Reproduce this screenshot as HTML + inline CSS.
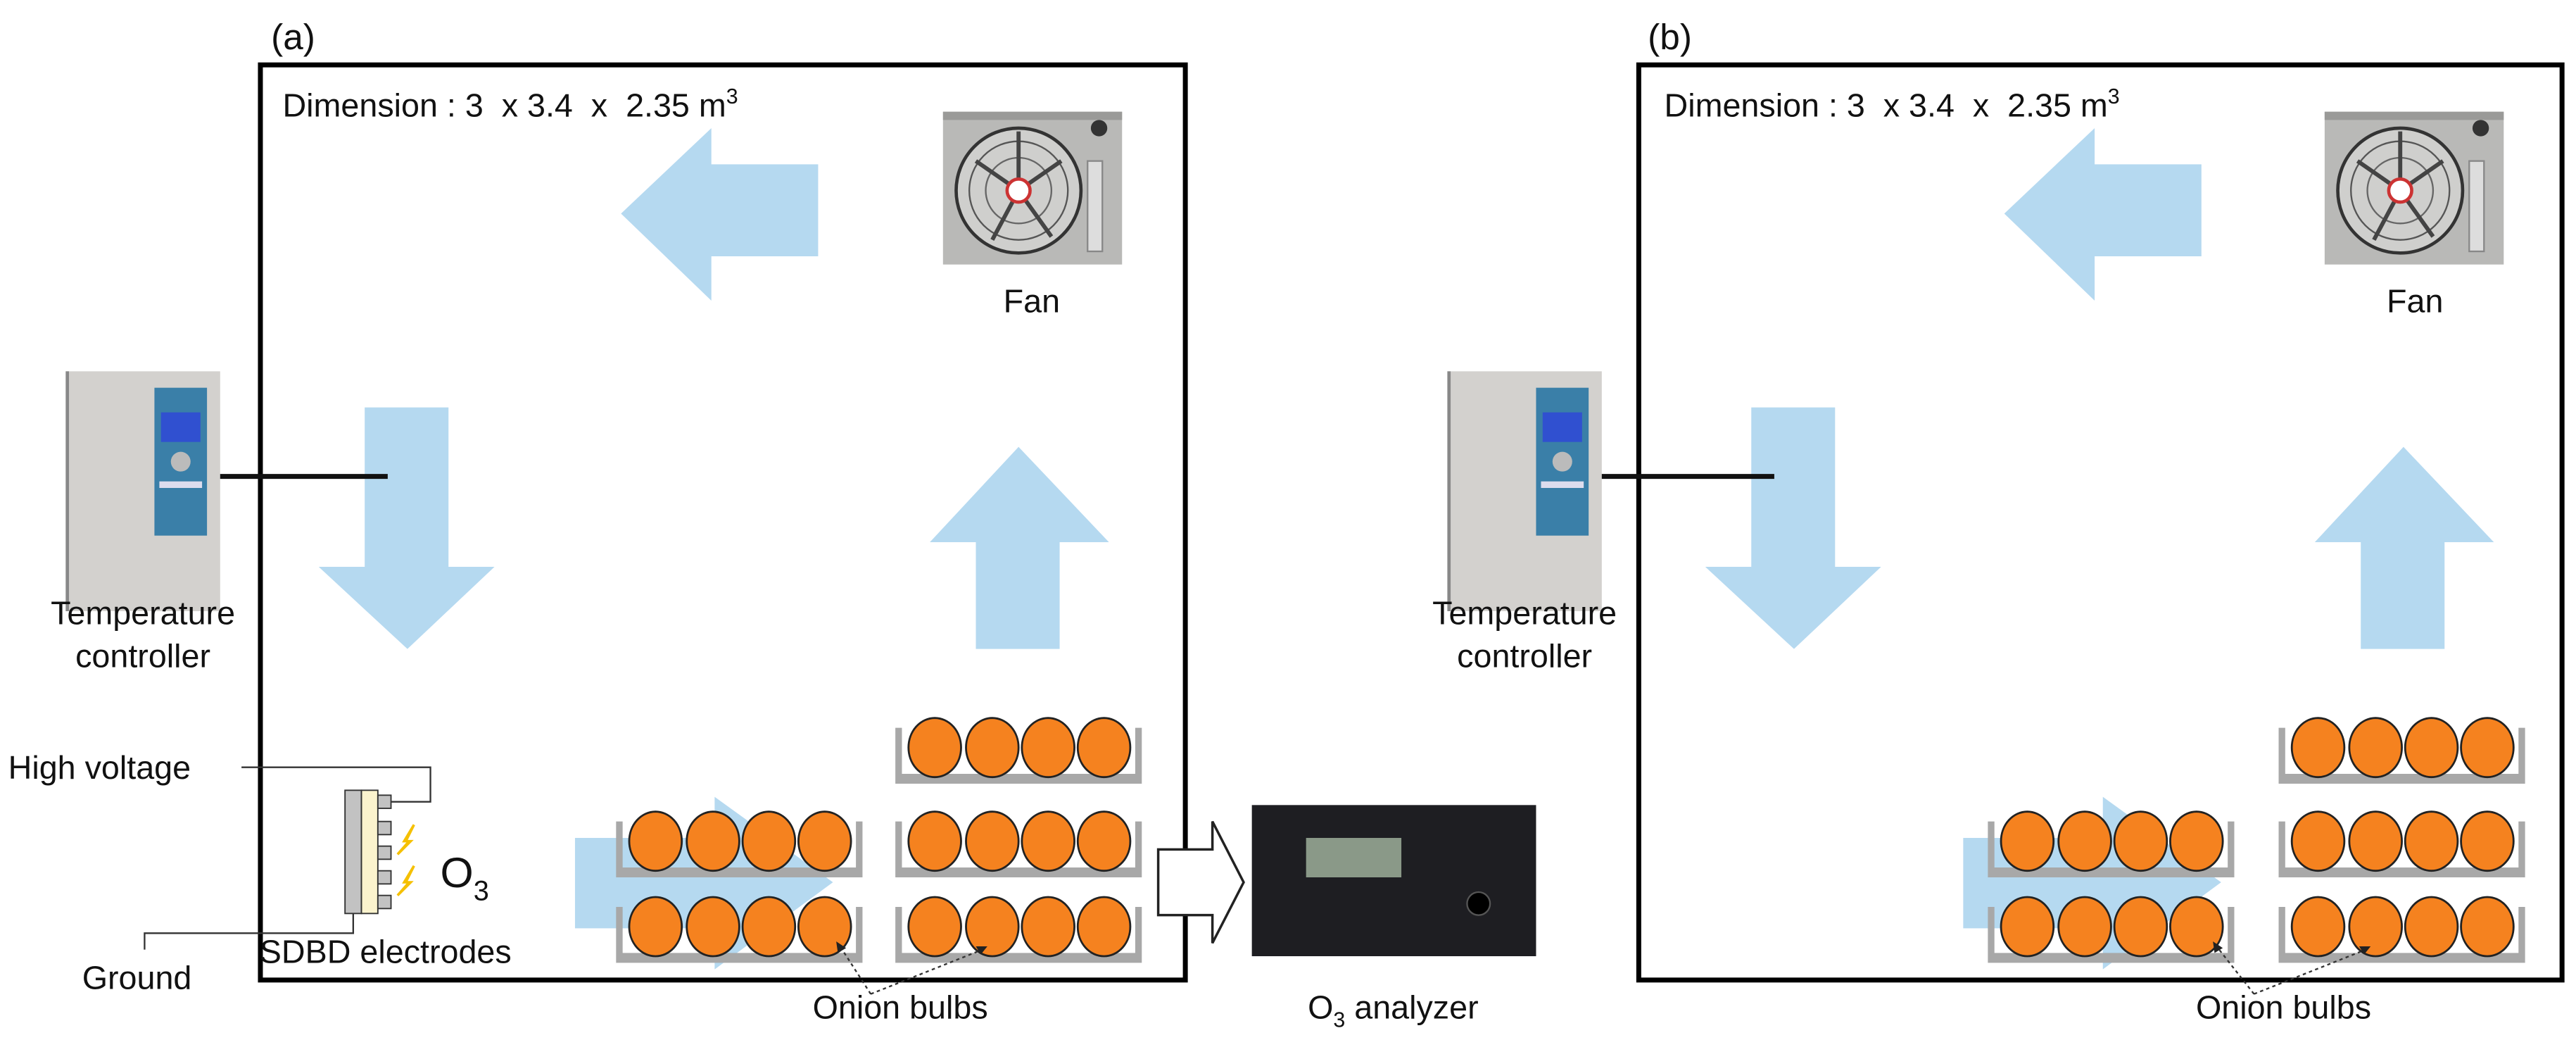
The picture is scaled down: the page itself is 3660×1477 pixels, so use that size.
<!DOCTYPE html>
<html><head><meta charset="utf-8"><style>
html,body{margin:0;padding:0;background:#fff;}
svg{display:block;}
text{font-family:"Liberation Sans",Arial,sans-serif;fill:#111;}
</style></head><body>
<svg width="3660" height="1477" viewBox="0 0 1568 633" preserveAspectRatio="none" xmlns="http://www.w3.org/2000/svg">
<defs>
  <g id="tray">
    <path d="M0 0 V34 H150 V0 H146 V28 H4 V0 Z" fill="#a8a8a8"/>
    <ellipse cx="24" cy="12" rx="16" ry="18" fill="#f5821f" stroke="#222" stroke-width="1.2"/>
    <ellipse cx="59" cy="12" rx="16" ry="18" fill="#f5821f" stroke="#222" stroke-width="1.2"/>
    <ellipse cx="93" cy="12" rx="16" ry="18" fill="#f5821f" stroke="#222" stroke-width="1.2"/>
    <ellipse cx="127" cy="12" rx="16" ry="18" fill="#f5821f" stroke="#222" stroke-width="1.2"/>
  </g>
  <g id="fan">
    <rect x="0" y="0" width="109" height="93" fill="#b9b9b7"/>
    <rect x="0" y="0" width="109" height="5" fill="#9a9a98"/>
    <circle cx="46" cy="48" r="38" fill="#cfcfcd" stroke="#333" stroke-width="2"/>
    <circle cx="46" cy="48" r="30" fill="none" stroke="#555" stroke-width="1"/>
    <circle cx="46" cy="48" r="20" fill="none" stroke="#666" stroke-width="1"/>
    <path d="M46 48 L20 30 M46 48 L72 30 M46 48 L30 78 M46 48 L66 76 M46 48 L46 12" stroke="#444" stroke-width="2.5"/>
    <circle cx="46" cy="48" r="7" fill="#fff" stroke="#c33" stroke-width="2"/>
    <rect x="88" y="30" width="9" height="55" fill="#ddd" stroke="#888"/>
    <circle cx="95" cy="10" r="5" fill="#333"/>
  </g>
  <g id="tc">
    <rect x="0" y="0" width="94" height="146" fill="#d3d1ce"/>
    <rect x="0" y="0" width="2" height="146" fill="#888"/>
    <rect x="54" y="10" width="32" height="90" fill="#3a7fa8"/>
    <rect x="58" y="25" width="24" height="18" fill="#3050d0"/>
    <circle cx="70" cy="55" r="6" fill="#bbb"/>
    <rect x="57" y="67" width="26" height="4" fill="#dde"/>
  </g>
  <g id="downarrow">
    <path d="M28 0 H79 V97 H107 L54 147 L0 97 H28 Z" fill="#b5d9f0"/>
  </g>
</defs>

<!-- ===== Panel (a) ===== -->
<text x="165" y="30" font-size="22">(a)</text>
<rect x="158.5" y="39.5" width="563" height="557" fill="none" stroke="#000" stroke-width="3"/>
<text x="172" y="71" font-size="20" xml:space="preserve">Dimension : 3  x 3.4  x  2.35 m<tspan font-size="13" dy="-8">3</tspan></text>

<path d="M378 130 L433 78 V100 H498 V156 H433 V183 Z" fill="#b5d9f0"/>
<use href="#fan" x="574" y="68"/>
<text x="628" y="190" font-size="20" text-anchor="middle">Fan</text>

<use href="#tc" x="40" y="226"/>
<use href="#downarrow" x="194" y="248"/>
<line x1="134" y1="290" x2="236" y2="290" stroke="#111" stroke-width="3"/>
<text x="87" y="380" font-size="20" text-anchor="middle">Temperature</text>
<text x="87" y="406" font-size="20" text-anchor="middle">controller</text>

<path d="M594 395 V330 H566 L620 272 L675 330 H645 V395 Z" fill="#b5d9f0"/>

<path d="M350 510 H435 V485 L507 537 L435 590 V565 H350 Z" fill="#b5d9f0"/>
<use href="#tray" x="545" y="443"/>
<use href="#tray" x="375" y="500"/>
<use href="#tray" x="545" y="500"/>
<use href="#tray" x="375" y="552"/>
<use href="#tray" x="545" y="552"/>

<path d="M705 517 H738 V500 L757 537 L738 574 V557 H705 Z" fill="#fff" stroke="#222" stroke-width="1.5"/>
<rect x="762" y="490" width="173" height="92" fill="#1e1e22"/>
<rect x="795" y="510" width="58" height="24" fill="#8a9988"/>
<circle cx="900" cy="550" r="7" fill="#000" stroke="#555"/>
<text x="848" y="620" font-size="20" text-anchor="middle">O<tspan font-size="13" dy="5">3</tspan><tspan dy="-5"> analyzer</tspan></text>

<path d="M530 605 L512 577 M530 605 L598 578" stroke="#333" stroke-width="1" stroke-dasharray="2,2" fill="none"/>
<path d="M509 573 l1 7 l5 -3 Z M601 576 l-7 0 l3 5 Z" fill="#222"/>
<text x="548" y="620" font-size="20" text-anchor="middle">Onion bulbs</text>

<!-- electrodes -->
<text x="5" y="474" font-size="20">High voltage</text>
<path d="M147 467 H262 V488 H230" stroke="#333" stroke-width="1" fill="none"/>
<rect x="210" y="481" width="10" height="75" fill="#c2c2c2" stroke="#333" stroke-width="0.8"/>
<rect x="220" y="481" width="10" height="75" fill="#fbf3cd" stroke="#333" stroke-width="0.8"/>
<rect x="230" y="484" width="8" height="8" fill="#c2c2c2" stroke="#333" stroke-width="0.8"/>
<rect x="230" y="500" width="8" height="8" fill="#c2c2c2" stroke="#333" stroke-width="0.8"/>
<rect x="230" y="515" width="8" height="8" fill="#c2c2c2" stroke="#333" stroke-width="0.8"/>
<rect x="230" y="530" width="8" height="8" fill="#c2c2c2" stroke="#333" stroke-width="0.8"/>
<rect x="230" y="545" width="8" height="8" fill="#c2c2c2" stroke="#333" stroke-width="0.8"/>
<path d="M252 502 L246 512 L249 512 L242 520 L250 512 L247 512 Z" fill="#f5c000" stroke="#f5c000" stroke-width="1.5"/>
<path d="M252 527 L246 537 L249 537 L242 545 L250 537 L247 537 Z" fill="#f5c000" stroke="#f5c000" stroke-width="1.5"/>
<text x="268" y="540" font-size="26">O<tspan font-size="17" dy="8">3</tspan></text>
<path d="M215 556 V568 H88 V578" stroke="#333" stroke-width="1" fill="none"/>
<text x="50" y="602" font-size="20">Ground</text>
<text x="158" y="586" font-size="20">SDBD electrodes</text>

<!-- ===== Panel (b) ===== -->
<text x="1003" y="30" font-size="22">(b)</text>
<rect x="997.5" y="39.5" width="562" height="557" fill="none" stroke="#000" stroke-width="3"/>
<text x="1013" y="71" font-size="20" xml:space="preserve">Dimension : 3  x 3.4  x  2.35 m<tspan font-size="13" dy="-8">3</tspan></text>

<path d="M1220 130 L1275 78 V100 H1340 V156 H1275 V183 Z" fill="#b5d9f0"/>
<use href="#fan" x="1415" y="68"/>
<text x="1470" y="190" font-size="20" text-anchor="middle">Fan</text>

<use href="#tc" x="881" y="226"/>
<use href="#downarrow" x="1038" y="248"/>
<line x1="975" y1="290" x2="1080" y2="290" stroke="#111" stroke-width="3"/>
<text x="928" y="380" font-size="20" text-anchor="middle">Temperature</text>
<text x="928" y="406" font-size="20" text-anchor="middle">controller</text>

<path d="M1437 395 V330 H1409 L1463 272 L1518 330 H1488 V395 Z" fill="#b5d9f0"/>

<path d="M1195 510 H1280 V485 L1352 537 L1280 590 V565 H1195 Z" fill="#b5d9f0"/>
<use href="#tray" x="1387" y="443"/>
<use href="#tray" x="1210" y="500"/>
<use href="#tray" x="1387" y="500"/>
<use href="#tray" x="1210" y="552"/>
<use href="#tray" x="1387" y="552"/>

<path d="M1372 605 L1350 577 M1372 605 L1440 578" stroke="#333" stroke-width="1" stroke-dasharray="2,2" fill="none"/>
<path d="M1347 573 l1 7 l5 -3 Z M1443 576 l-7 0 l3 5 Z" fill="#222"/>
<text x="1390" y="620" font-size="20" text-anchor="middle">Onion bulbs</text>
</svg>
</body></html>
